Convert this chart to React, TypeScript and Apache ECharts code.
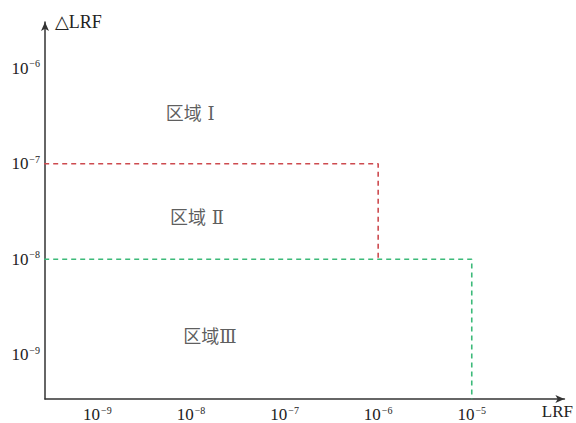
import React, { useEffect, useRef } from "react";
import * as echarts from "echarts";

// Decade exponents used for the tick labels (values are 10^n)
const xTickExponents = [-9, -8, -7, -6, -5];
const yTickExponents = [-9, -8, -7, -6];

// Boundary between region I and II (red) and between II and III (green)
const redLRF = [2.7e-10, 1e-6, 1e-6];
const redDeltaLRF = [1e-7, 1e-7, 1e-8];
const greenLRF = [2.7e-10, 1e-5, 1e-5];
const greenDeltaLRF = [1e-8, 1e-8, 3.4e-10];

// Region annotations, placed at (LRF, ΔLRF)
const regionNames = ["区域 Ⅰ", "区域 Ⅱ", "区域Ⅲ"];
const regionLRF = [9.8e-9, 1.16e-8, 1.59e-8];
const regionDeltaLRF = [3.4e-7, 2.74e-8, 1.54e-9];

const SERIF = "'Liberation Serif', 'DejaVu Serif', serif";
const REGION_FONT = "'DejaVu Serif', 'Noto Sans CJK SC', serif";

const toLog = (xs: number[], ys: number[]) =>
  xs.map((x, i) => [Math.log10(x), Math.log10(ys[i])]);

const powerLabel = (v: number) => `{b|10}{s|${String(v).replace("-", "−")}}`;

const labelRich = {
  b: { fontFamily: SERIF, fontSize: 17, color: "#222" },
  s: {
    fontFamily: SERIF,
    fontSize: 10,
    color: "#222",
    verticalAlign: "bottom" as const,
    padding: [0, 0, 9, 1],
  },
};

export default function App() {
  const ref = useRef<HTMLDivElement>(null);

  useEffect(() => {
    if (!ref.current) return;
    const chart = echarts.init(ref.current, null, { renderer: "svg" });
    const axisLine = {
      show: true,
      symbol: ["none", "arrow"],
      symbolSize: [6, 9],
      lineStyle: { color: "#333", width: 1.5 },
    };
    chart.setOption({
      animation: false,
      backgroundColor: "#fff",
      grid: { left: 45, right: 9, top: 22, bottom: 22, containLabel: false },
      xAxis: {
        type: "value",
        min: -9.56,
        max: -4.01,
        axisLine,
        axisTick: { show: false },
        splitLine: { show: false },
        axisLabel: {
          customValues: xTickExponents,
          margin: 6,
          formatter: powerLabel,
          rich: labelRich,
        },
        name: "LRF",
        nameLocation: "end",
        nameGap: -7,
        nameTextStyle: {
          fontFamily: SERIF,
          fontSize: 17,
          color: "#222",
          align: "center",
          verticalAlign: "top",
          padding: [4, 0, 0, 0],
        },
      },
      yAxis: {
        type: "value",
        min: -9.465,
        max: -5.515,
        axisLine,
        axisTick: { show: false },
        splitLine: { show: false },
        axisLabel: {
          customValues: yTickExponents,
          margin: 5,
          formatter: powerLabel,
          rich: labelRich,
        },
        name: "△LRF",
        nameLocation: "end",
        nameGap: 0,
        nameTextStyle: {
          fontFamily: SERIF,
          fontSize: 18,
          color: "#222",
          align: "left",
          verticalAlign: "middle",
          padding: [0, 0, 0, 10],
        },
      },
      series: [
        {
          type: "line",
          data: toLog(redLRF, redDeltaLRF),
          symbol: "none",
          lineStyle: { color: "#cd4a4f", width: 1.6, type: [5, 4] },
        },
        {
          type: "line",
          data: toLog(greenLRF, greenDeltaLRF),
          symbol: "none",
          lineStyle: { color: "#3cba79", width: 1.6, type: [5, 4] },
        },
        {
          type: "scatter",
          symbolSize: 0,
          data: regionNames.map((name, i) => ({
            name,
            value: [Math.log10(regionLRF[i]), Math.log10(regionDeltaLRF[i])],
          })),
          label: {
            show: true,
            position: "inside",
            formatter: (p: any) => p.name,
            fontFamily: REGION_FONT,
            fontSize: 18,
            color: "#333",
          },
        },
      ],
    });
    return () => chart.dispose();
  }, []);

  return (
    <div
      ref={ref}
      style={{ position: "absolute", left: 0, top: 0, width: 576, height: 423 }}
    />
  );
}
